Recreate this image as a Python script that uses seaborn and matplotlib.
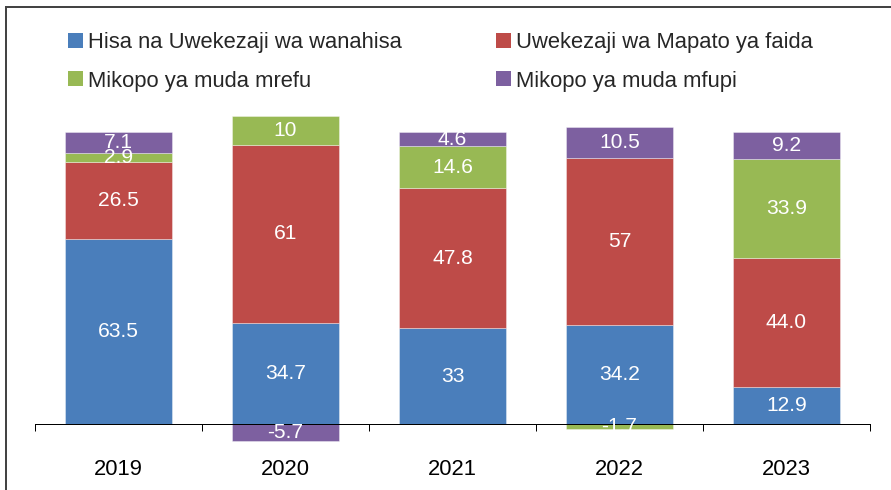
import numpy as np
import pandas as pd
import matplotlib
matplotlib.use("Agg")
import matplotlib.pyplot as plt
from matplotlib.patches import Rectangle
import seaborn as sns

years = ["2019", "2020", "2021", "2022", "2023"]
series_names = ["Hisa na Uwekezaji wa wanahisa", "Uwekezaji wa Mapato ya faida",
                "Mikopo ya muda mrefu", "Mikopo ya muda mfupi"]
hisa = [63.5, 34.7, 33.0, 34.2, 12.9]
mapato = [26.5, 61.0, 47.8, 57.0, 44.0]
mrefu = [2.9, 10.0, 14.6, -1.7, 33.9]
mfupi = [7.1, -5.7, 4.6, 10.5, 9.2]
hisa_lbl = ["63.5", "34.7", "33", "34.2", "12.9"]
mapato_lbl = ["26.5", "61", "47.8", "57", "44.0"]
mrefu_lbl = ["2.9", "10", "14.6", "-1.7", "33.9"]
mfupi_lbl = ["7.1", "-5.7", "4.6", "10.5", "9.2"]

colors = ["#4A7EBB", "#BE4B48", "#98B954", "#7D60A0"]

sns.set_theme(style="white")
plt.rcParams["font.family"] = ["Liberation Sans", "DejaVu Sans"]

W, H = 891, 490
fig = plt.figure(figsize=(W / 72, H / 72), dpi=72)
ax = fig.add_axes([35 / W, 0.0741, 835 / W, 0.7155])

all_vals = [hisa, mapato, mrefu, mfupi]
all_lbls = [hisa_lbl, mapato_lbl, mrefu_lbl, mfupi_lbl]
pos_base = np.zeros(len(years))
neg_base = np.zeros(len(years))
for name, vals, lbls, col in zip(series_names, all_vals, all_lbls, colors):
    v = np.array(vals, dtype=float)
    bottom = np.where(v >= 0, pos_base, neg_base)
    df = pd.DataFrame({"year": years, "value": v})
    sns.barplot(data=df, x="year", y="value", order=years, color=col,
                saturation=1, width=0.64, bottom=bottom, label=name,
                edgecolor=(1, 1, 1, 0.45), linewidth=0.8, errorbar=None, ax=ax)
    for i, (val, lb) in enumerate(zip(v, lbls)):
        ax.text(i, bottom[i] + val / 2, lb, ha="center", va="center",
                color="white", fontsize=21, clip_on=False)
    pos_base = np.where(v >= 0, pos_base + v, pos_base)
    neg_base = np.where(v < 0, neg_base + v, neg_base)

ax.set_xlim(-0.5, 4.5)
ax.set_ylim(-10, 110)
ax.set_xlabel("")
ax.set_ylabel("")
ax.set_yticks([])
for s in ["top", "right", "left"]:
    ax.spines[s].set_visible(False)
ax.spines["bottom"].set_position(("data", 0))
ax.spines["bottom"].set_color("black")
ax.spines["bottom"].set_linewidth(1.0)
ax.set_xticks(np.arange(-0.5, 5, 1), minor=True)
ax.tick_params(axis="x", which="minor", length=7, width=1, color="black",
               direction="out", bottom=True)
ax.tick_params(axis="x", which="major", length=0, pad=35, labelsize=22,
               labelcolor="black")
ax.set_zorder(1)

handles, labels = ax.get_legend_handles_labels()
if ax.get_legend() is not None:
    ax.get_legend().remove()
order = [0, 2, 1, 3]
leg = fig.legend([handles[k] for k in order], [labels[k] for k in order],
                 ncol=2, loc="upper left",
                 bbox_to_anchor=(68 / W, 1 - 32 / H), frameon=False,
                 fontsize=22, handlelength=0.68, handleheight=0.68,
                 handletextpad=0.22, columnspacing=4.3, labelspacing=0.8,
                 borderpad=0, borderaxespad=0)
for h in leg.legend_handles:
    h.set_edgecolor("none")

fig.patches.append(Rectangle((5.5 / W, -0.1), 1.2, 1 - 7 / H + 0.1,
                             transform=fig.transFigure, fill=False,
                             edgecolor="#444444", linewidth=2, zorder=0))

fig.savefig("out.png", dpi=72)
